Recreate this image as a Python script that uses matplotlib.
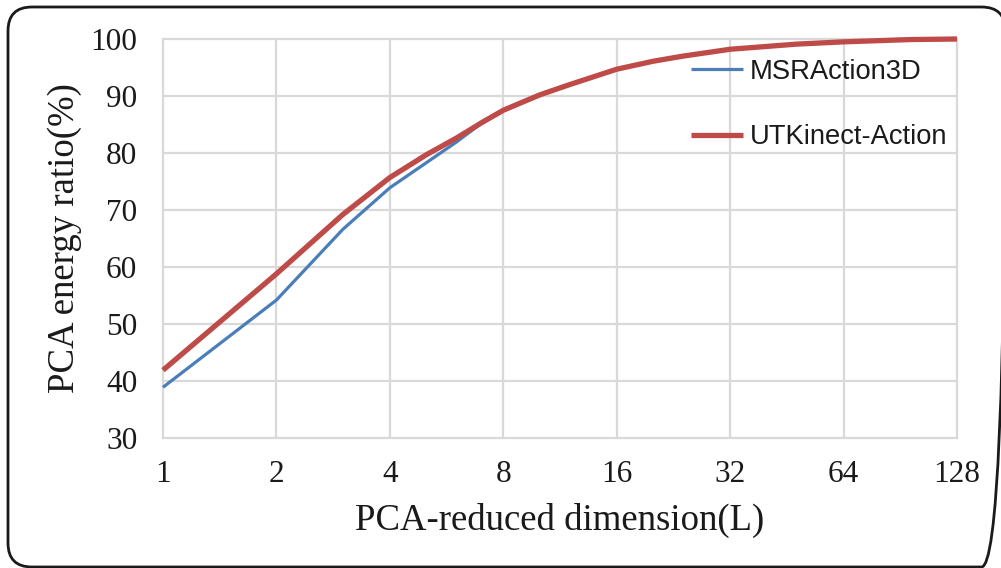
import matplotlib
matplotlib.use("Agg")
import matplotlib.pyplot as plt
from matplotlib.patches import FancyBboxPatch

# PCA-reduced dimension L and cumulative energy ratio (%)
dims = [1, 2, 3, 4, 5, 6, 7, 8, 10, 12, 16, 20, 24, 32, 48, 64, 96, 128]
msr_action3d = [38.9, 54.2, 66.6, 73.9, 78.3, 81.9, 85.2, 87.4, 90.2, 92.0,
                94.7, 96.1, 97.0, 98.2, 99.1, 99.5, 99.9, 100.0]
utkinect_action = [41.9, 58.8, 69.2, 75.7, 79.7, 82.6, 85.3, 87.5, 90.2, 92.0,
                   94.7, 96.1, 97.0, 98.2, 99.1, 99.5, 99.9, 100.0]
x_ticks = [1, 2, 4, 8, 16, 32, 64, 128]
y_ticks = [30, 40, 50, 60, 70, 80, 90, 100]

W, H = 1001, 568
fig = plt.figure(figsize=(W / 100, H / 100), dpi=100)
fig.patch.set_facecolor("white")

# overlay in pixel units for the rounded frame (right side just past the edge)
bg = fig.add_axes([0, 0, 1, 1], zorder=-1)
bg.set_xlim(0, W)
bg.set_ylim(H, 0)
bg.axis("off")
frame = FancyBboxPatch((8, 7), 1005.5 - 8, 567 - 7,
                       boxstyle="round,pad=0,rounding_size=24",
                       fill=False, edgecolor="#1a1a1a", linewidth=2.0,
                       clip_on=True)
bg.add_patch(frame)

ax = fig.add_axes([163 / W, (H - 438) / H, (957 - 163) / W, (438 - 39) / H])
ax.set_facecolor("none")
ax.set_xscale("log", base=2)
ax.set_xlim(1, 128)
ax.set_ylim(30, 100)

grid_c = "#d9d9d9"
for s in ax.spines.values():
    s.set_visible(False)
for xv in x_ticks:
    ax.axvline(xv, color=grid_c, lw=1.6, zorder=0, clip_on=False)
for yv in y_ticks:
    ax.axhline(yv, color=grid_c, lw=1.6, zorder=0, clip_on=False)

ax.plot(dims, msr_action3d, color="#4a7ebb", lw=2.3, label="MSRAction3D",
        clip_on=False, zorder=3, solid_capstyle="butt")
ax.plot(dims, utkinect_action, color="#be4b48", lw=3.8, label="UTKinect-Action",
        clip_on=False, zorder=4, solid_capstyle="butt")

serif = ["Liberation Serif", "DejaVu Serif"]
ax.set_xticks(x_ticks)
ax.set_xticklabels([str(v) for v in x_ticks], family=serif, fontsize=22.5)
ax.set_yticks(y_ticks)
ax.set_yticklabels([str(v) for v in y_ticks], family=serif, fontsize=22.5)
ax.minorticks_off()
ax.tick_params(axis="both", length=0, colors="#1a1a1a")
ax.tick_params(axis="x", pad=16)
ax.tick_params(axis="y", pad=18.5)

ax.set_xlabel("PCA-reduced dimension(L)", family=serif, fontsize=26.5,
              color="#1a1a1a", labelpad=10)
ax.set_ylabel("PCA energy ratio(%)", family=serif, fontsize=26.5,
              color="#1a1a1a", labelpad=6)

leg = ax.legend(loc="upper left",
                bbox_to_anchor=((666 - 163) / (957 - 163), 1 - (34 - 39) / (438 - 39)),
                frameon=False, prop={"family": ["Liberation Sans", "DejaVu Sans"], "size": 19.7},
                handlelength=1.9, handletextpad=0.25, labelspacing=1.45)
for t in leg.get_texts():
    t.set_color("#1a1a1a")

fig.savefig("out.png", dpi=100, facecolor="white")
